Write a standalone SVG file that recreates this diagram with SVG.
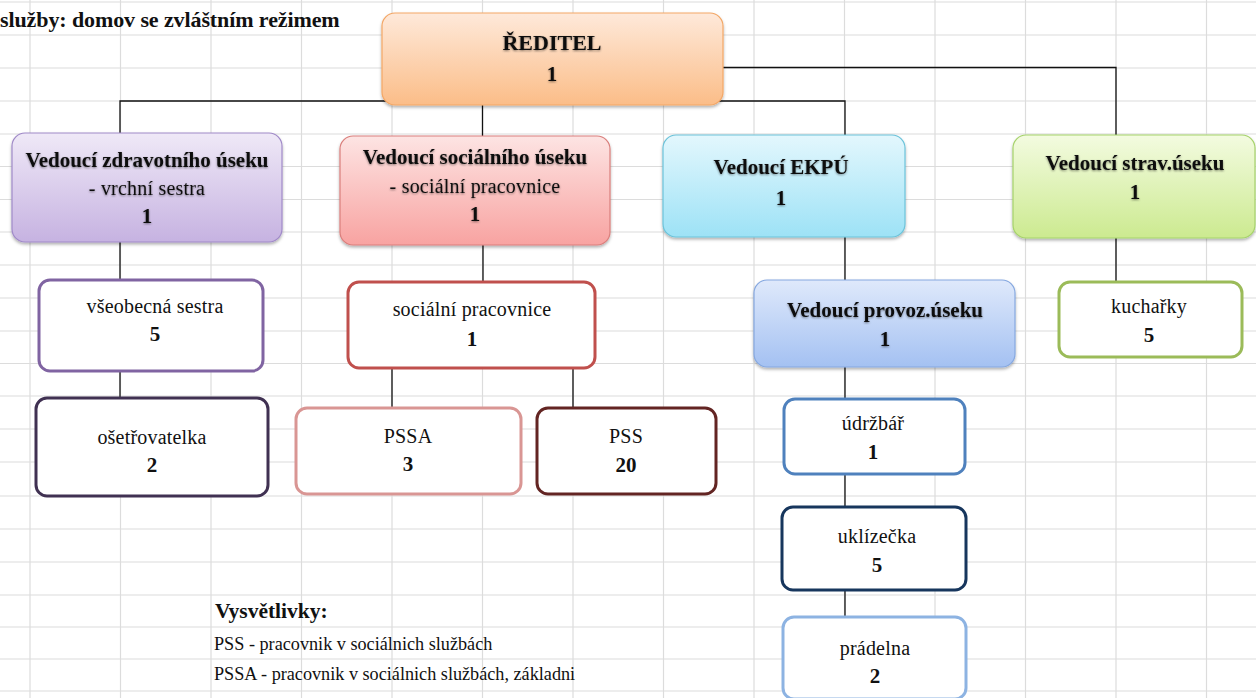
<svg xmlns="http://www.w3.org/2000/svg" width="1256" height="698" viewBox="0 0 1256 698" font-family="'Liberation Serif', 'DejaVu Serif', serif">
<defs>
<style>
.grid line{stroke:#dcdcdc;stroke-width:1.2}
.conn line,.conn path{stroke:#111;stroke-width:1.3;fill:none}
text{font-family:'Liberation Serif','DejaVu Serif',serif;fill:#111;text-anchor:middle}
.h{font-weight:bold;font-size:21px;letter-spacing:0px}
.n{font-size:20px;letter-spacing:0.2px}
.num{font-weight:bold;font-size:21px}
.hs{filter:url(#ts)}
.box{stroke-width:1.2}
.wb{fill:#fff;stroke-width:3}
</style>
<filter id="sh" x="-10%" y="-10%" width="120%" height="130%"><feDropShadow dx="0" dy="2" stdDeviation="1.8" flood-color="#000" flood-opacity="0.3"/></filter>
<filter id="ts" x="-10%" y="-30%" width="120%" height="160%"><feDropShadow dx="0" dy="1" stdDeviation="1.2" flood-color="#000" flood-opacity="0.45"/></filter>
<linearGradient id="gO" x1="0" y1="0" x2="0" y2="1"><stop offset="0" stop-color="#fee9da"/><stop offset="1" stop-color="#fbbd88"/></linearGradient>
<linearGradient id="gP" x1="0" y1="0" x2="0" y2="1"><stop offset="0" stop-color="#efe9f7"/><stop offset="1" stop-color="#c6b2e1"/></linearGradient>
<linearGradient id="gR" x1="0" y1="0" x2="0" y2="1"><stop offset="0" stop-color="#fde4e3"/><stop offset="1" stop-color="#f8a3a1"/></linearGradient>
<linearGradient id="gC" x1="0" y1="0" x2="0" y2="1"><stop offset="0" stop-color="#e3f7fd"/><stop offset="1" stop-color="#9de2f6"/></linearGradient>
<linearGradient id="gG" x1="0" y1="0" x2="0" y2="1"><stop offset="0" stop-color="#f3fbe0"/><stop offset="1" stop-color="#ccea90"/></linearGradient>
<linearGradient id="gB" x1="0" y1="0" x2="0" y2="1"><stop offset="0" stop-color="#dfe9fb"/><stop offset="1" stop-color="#a4c1f2"/></linearGradient>
</defs>
<rect width="1256" height="698" fill="#fff"/>
<g class="grid">
<line x1="30" y1="0" x2="30" y2="698"/><line x1="120.5" y1="0" x2="120.5" y2="698"/><line x1="211" y1="0" x2="211" y2="698"/><line x1="301.5" y1="0" x2="301.5" y2="698"/><line x1="392" y1="0" x2="392" y2="698"/><line x1="482.5" y1="0" x2="482.5" y2="698"/><line x1="573" y1="0" x2="573" y2="698"/><line x1="663.5" y1="0" x2="663.5" y2="698"/><line x1="754" y1="0" x2="754" y2="698"/><line x1="844.5" y1="0" x2="844.5" y2="698"/><line x1="935" y1="0" x2="935" y2="698"/><line x1="1025.5" y1="0" x2="1025.5" y2="698"/><line x1="1116" y1="0" x2="1116" y2="698"/><line x1="1206.5" y1="0" x2="1206.5" y2="698"/>
<line x1="0" y1="2" x2="1256" y2="2"/><line x1="0" y1="35" x2="1256" y2="35"/><line x1="0" y1="68" x2="1256" y2="68"/><line x1="0" y1="101" x2="1256" y2="101"/><line x1="0" y1="134" x2="1256" y2="134"/><line x1="0" y1="166.5" x2="1256" y2="166.5"/><line x1="0" y1="199.5" x2="1256" y2="199.5"/><line x1="0" y1="232" x2="1256" y2="232"/><line x1="0" y1="265" x2="1256" y2="265"/><line x1="0" y1="298" x2="1256" y2="298"/><line x1="0" y1="331" x2="1256" y2="331"/><line x1="0" y1="363.5" x2="1256" y2="363.5"/><line x1="0" y1="396" x2="1256" y2="396"/><line x1="0" y1="429" x2="1256" y2="429"/><line x1="0" y1="462" x2="1256" y2="462"/><line x1="0" y1="496" x2="1256" y2="496"/><line x1="0" y1="529" x2="1256" y2="529"/><line x1="0" y1="562" x2="1256" y2="562"/><line x1="0" y1="595" x2="1256" y2="595"/><line x1="0" y1="627" x2="1256" y2="627"/><line x1="0" y1="659" x2="1256" y2="659"/><line x1="0" y1="691" x2="1256" y2="691"/>
</g>
<text x="0" y="27" style="text-anchor:start;font-weight:bold;font-size:22px;letter-spacing:-0.1px">služby: domov se zvláštním režimem</text>
<g class="conn">
<path d="M120,133 V101 H845 V135"/>
<line x1="482.5" y1="101" x2="482.5" y2="136"/>
<path d="M723,67.5 H1116 V135"/>
<line x1="120" y1="242" x2="120" y2="280"/>
<line x1="120" y1="371" x2="120" y2="398"/>
<line x1="483" y1="245" x2="483" y2="282"/>
<line x1="392" y1="368" x2="392" y2="408"/>
<line x1="573" y1="368" x2="573" y2="408"/>
<line x1="845" y1="237" x2="845" y2="280"/>
<line x1="845" y1="367" x2="845" y2="399"/>
<line x1="845" y1="474" x2="845" y2="507"/>
<line x1="845" y1="590" x2="845" y2="617"/>
<line x1="1116" y1="238" x2="1116" y2="282"/>
</g>
<g id="reditel"><rect class="box" x="382" y="13" width="341" height="92" rx="13" fill="url(#gO)" stroke="#f3a766" filter="url(#sh)"/><text class="h hs" x="552" y="50" style="font-size:22px">ŘEDITEL</text><text class="num hs" x="552" y="81">1</text></g>
<g id="zdrav"><rect class="box" x="12" y="133" width="270" height="109" rx="13" fill="url(#gP)" stroke="#a08ac8" filter="url(#sh)"/><text class="h hs" x="147" y="167">Vedoucí zdravotního úseku</text><text class="n hs" x="147" y="195">- vrchní sestra</text><text class="num hs" x="147" y="223">1</text></g>
<g id="social"><rect class="box" x="340" y="136" width="270" height="109" rx="13" fill="url(#gR)" stroke="#da7f7c" filter="url(#sh)"/><text class="h hs" x="475" y="164">Vedoucí sociálního úseku</text><text class="n hs" x="475" y="193">- sociální pracovnice</text><text class="num hs" x="475" y="221">1</text></g>
<g id="ekpu"><rect class="box" x="663" y="135" width="242" height="102" rx="13" fill="url(#gC)" stroke="#6cc3da" filter="url(#sh)"/><text class="h hs" x="781" y="174">Vedoucí EKPÚ</text><text class="num hs" x="781" y="205">1</text></g>
<g id="strav"><rect class="box" x="1013" y="135" width="242" height="103" rx="13" fill="url(#gG)" stroke="#a6d36b" filter="url(#sh)"/><text class="h hs" x="1135" y="170">Vedoucí strav.úseku</text><text class="num hs" x="1135" y="199">1</text></g>
<g id="provoz"><rect class="box" x="754" y="280" width="261" height="87" rx="13" fill="url(#gB)" stroke="#86a8e0" filter="url(#sh)"/><text class="h hs" x="885" y="317">Vedoucí provoz.úseku</text><text class="num hs" x="885" y="346">1</text></g>
<g id="kucharky"><rect class="wb" x="1059" y="282" width="183" height="75" rx="11" stroke="#9bbb59"/><text class="n" x="1149" y="313">kuchařky</text><text class="num" x="1149" y="342">5</text></g>
<g id="vseobecna"><rect class="wb" x="39" y="280" width="224" height="91" rx="11" stroke="#8064a2"/><text class="n" x="155" y="313">všeobecná sestra</text><text class="num" x="155" y="341">5</text></g>
<g id="socprac"><rect class="wb" x="348" y="282" width="247" height="86" rx="11" stroke="#c0504d"/><text class="n" x="472" y="316">sociální pracovnice</text><text class="num" x="472" y="346">1</text></g>
<g id="osetr"><rect class="wb" x="36" y="398" width="232" height="98" rx="11" stroke="#403152"/><text class="n" x="152" y="444">ošetřovatelka</text><text class="num" x="152" y="472">2</text></g>
<g id="pssa"><rect class="wb" x="296" y="408" width="225" height="86" rx="11" stroke="#d99694"/><text class="n" x="408" y="443">PSSA</text><text class="num" x="408" y="471">3</text></g>
<g id="pss"><rect class="wb" x="537" y="408" width="179" height="86" rx="11" stroke="#632523"/><text class="n" x="626" y="443">PSS</text><text class="num" x="626" y="472">20</text></g>
<g id="udrzbar"><rect class="wb" x="784" y="399" width="181" height="75" rx="11" stroke="#4f81bd"/><text class="n" x="873" y="430">údržbář</text><text class="num" x="873" y="459">1</text></g>
<g id="uklizecka"><rect class="wb" x="782" y="507" width="184" height="83" rx="11" stroke="#17365d"/><text class="n" x="877" y="543">uklízečka</text><text class="num" x="877" y="572">5</text></g>
<g id="pradelna"><rect class="wb" x="783" y="617" width="183" height="82" rx="11" stroke="#8db3e2"/><text class="n" x="875" y="655">prádelna</text><text class="num" x="875" y="683">2</text></g>
<g id="legend"><text x="215" y="618" style="text-anchor:start;font-weight:bold;font-size:21.5px">Vysvětlivky:</text><text x="214" y="650" style="text-anchor:start;font-size:18.2px">PSS - pracovnik v sociálnich službách</text><text x="214" y="680" style="text-anchor:start;font-size:18.2px">PSSA - pracovnik v sociálnich službách, základni</text></g>
</svg>
